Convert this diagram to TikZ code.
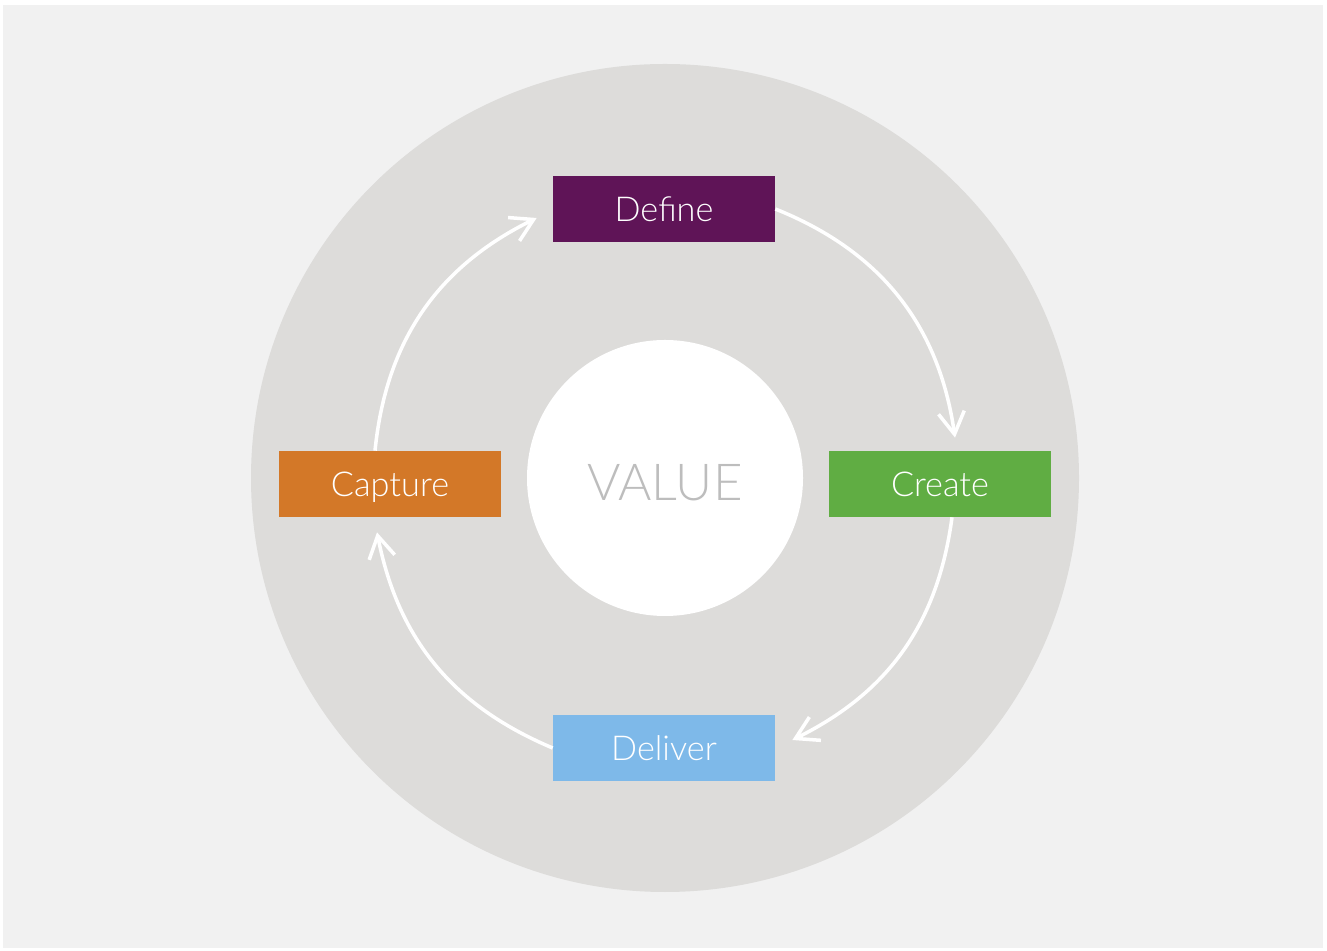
\documentclass[tikz,border=0pt]{standalone}
\usepackage{fontspec}
\setmainfont{Lato Light}
\usepackage{tikz}
\usetikzlibrary{positioning}
\usetikzlibrary{arrows.meta}

\definecolor{pagegray}{HTML}{F1F1F1}
\definecolor{ringgray}{HTML}{DDDCDA}
\definecolor{valuegray}{HTML}{BDBDBD}
\definecolor{definecol}{HTML}{5F1457}
\definecolor{createcol}{HTML}{60AD43}
\definecolor{delivercol}{HTML}{7EB9E9}
\definecolor{capturecol}{HTML}{D37828}

\tikzset{
	stage/.style={minimum width=4.44cm, minimum height=1.32cm, inner sep=0pt,
		text height=14pt, text depth=0pt,
		text=white, font=\fontsize{19.5}{23}\selectfont},
	flow/.style={draw=white, line width=2pt,
		-{Straight Barb[length=0.44cm, width=0.52cm, line width=2pt]}},
}

\begin{document}
\begin{tikzpicture}

	% page and margins
	\fill[white] (0,0) rectangle (26.54,19.00);
	\fill[pagegray] (0.06,0.04) rectangle (26.46,18.90);
	\useasboundingbox (0,0) rectangle (26.54,19.00);

	% NOTE: the ring and the VALUE disc share this centre
	\coordinate (C) at (13.30,9.44);
	\fill[ringgray] (C) circle (8.28cm);

	\node[circle, fill=white, minimum size=5.52cm, inner sep=0pt] (value) at (C) {};
	\node[text=valuegray, font=\fontsize{29}{34}\selectfont,
		text height=21pt, text depth=0pt] (valuetext)
		at ([yshift=-0.08cm]value.center) {VALUE};

	% the four stages
	\node[stage, fill=definecol]  (define)  at (13.28,14.82) {Define};
	\node[stage, fill=createcol]  (create)  at (18.80,9.32)  {Create};
	\node[stage, fill=delivercol] (deliver) at (13.28,4.04)  {Deliver};
	\node[stage, fill=capturecol] (capture) at (7.80,9.32)   {Capture};

	% arrows run clockwise round the disc
	\draw[flow] (define.east) to[bend left=30]
		([shift={(0.30,0.26)}]create.north);
	\draw[flow] ([xshift=0.24cm]create.south) to[bend left=28]
		([shift={(0.34,0.16)}]deliver.east);
	\draw[flow] (deliver.west) to[bend left=28]
		([shift={(-0.26,-0.30)}]capture.south);
	\draw[flow] ([xshift=-0.30cm]capture.north) to[bend left=29]
		([shift={(-0.32,-0.18)}]define.west);

\end{tikzpicture}
\end{document}
